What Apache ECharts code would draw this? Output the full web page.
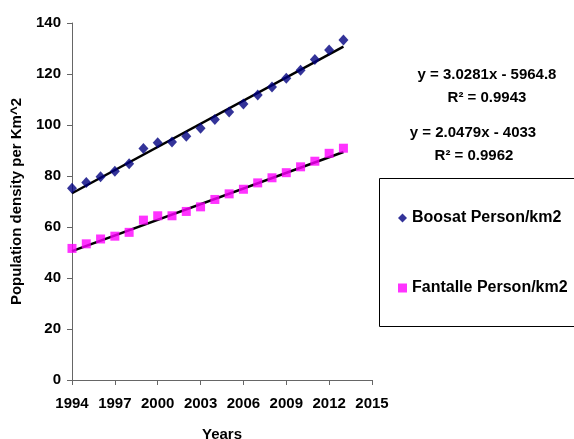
<!DOCTYPE html>
<html lang="en">
<head>
    <meta charset="UTF-8">
    <title>Population density</title>
    <script src="https://cdn.jsdelivr.net/npm/echarts@6/dist/echarts.min.js"></script>
    <style>
        html, body { margin: 0; padding: 0; background: #ffffff; }
        #main { width: 574px; height: 439px; }
    </style>
</head>
<body>
<div id="main"></div>
<script type="text/javascript">
    // 横轴年份（类目）
    var years = ['1994','1995','1996','1997','1998','1999','2000','2001','2002','2003','2004',
                 '2005','2006','2007','2008','2009','2010','2011','2012','2013','2014','2015'];
    // 观测年份
    var obsYears = ['1994','1995','1996','1997','1998','1999','2000','2001','2002','2003',
                    '2004','2005','2006','2007','2008','2009','2010','2011','2012','2013'];
    var boosat = [75.2, 77.5, 79.7, 81.9, 84.8, 90.8, 93.0, 93.3, 95.6, 98.7,
                  102.2, 105.1, 108.2, 111.8, 114.9, 118.3, 121.5, 125.7, 129.4, 133.3];
    var fantalle = [51.6, 53.4, 55.3, 56.4, 57.9, 62.7, 64.4, 64.4, 66.1, 67.9,
                    70.8, 73.0, 74.8, 77.3, 79.3, 81.3, 83.6, 85.8, 88.9, 90.9];
    // 趋势线系数 y = a*x + b
    var boosatFit = [3.0281, -5964.8];
    var fantalleFit = [2.0479, -4033];
    var boosatR2 = '0.9943';
    var fantalleR2 = '0.9962';

    var font = 'Arial, "Liberation Sans", sans-serif';

    function pairs(vals) {
        return obsYears.map(function (y, i) { return [y, vals[i]]; });
    }
    function trend(fit) {
        var a = obsYears[0], b = obsYears[obsYears.length - 1];
        return [[a, fit[0] * Number(a) + fit[1]], [b, fit[0] * Number(b) + fit[1]]];
    }
    function eqText(fit) {
        return 'y = ' + fit[0] + 'x - ' + Math.abs(fit[1]);
    }

    var chart = echarts.init(document.getElementById('main'));
    var option = {
        backgroundColor: '#ffffff',
        animation: false,
        grid: { left: 72, right: 202, top: 23, bottom: 59, containLabel: false, outerBoundsMode: 'none' },
        xAxis: {
            type: 'category',
            data: years,
            boundaryGap: false,
            name: 'Years',
            nameLocation: 'middle',
            nameGap: 47,
            nameTextStyle: { fontFamily: font, fontWeight: 'bold', fontSize: 15, color: '#000' },
            axisLine: { lineStyle: { color: '#666', width: 1 } },
            axisTick: { interval: 2, length: 5, lineStyle: { color: '#666' } },
            axisLabel: { interval: 2, margin: 16, fontFamily: font, fontWeight: 'bold', fontSize: 15, color: '#000' },
            splitLine: { show: false }
        },
        yAxis: {
            type: 'value',
            min: 0,
            max: 140,
            interval: 20,
            name: 'Population density per Km^2',
            nameLocation: 'middle',
            nameGap: 48,
            nameTextStyle: { fontFamily: font, fontWeight: 'bold', fontSize: 15, color: '#000' },
            axisLine: { show: true, lineStyle: { color: '#666', width: 1 } },
            axisTick: { show: true, length: 5, lineStyle: { color: '#666' } },
            axisLabel: { margin: 11, fontFamily: font, fontWeight: 'bold', fontSize: 15, color: '#000' },
            splitLine: { show: false }
        },
        legend: {
            data: ['Boosat Person/km2', 'Fantalle Person/km2'],
            orient: 'vertical',
            left: 393,
            top: 205,
            itemGap: 54,
            itemWidth: 9,
            itemHeight: 9,
            textStyle: { fontFamily: font, fontWeight: 'bold', fontSize: 16, color: '#000' }
        },
        graphic: [
            { type: 'rect', shape: { x: 379.5, y: 178.5, width: 220, height: 148 },
              style: { fill: 'none', stroke: '#000', lineWidth: 1 }, z: -1 },
            { type: 'text', x: 487, y: 75, style: { text: eqText(boosatFit), fontFamily: font, fontWeight: 'bold', fontSize: 15, fill: '#000', textAlign: 'center', textVerticalAlign: 'middle' } },
            { type: 'text', x: 487, y: 98, style: { text: 'R² = ' + boosatR2, fontFamily: font, fontWeight: 'bold', fontSize: 15, fill: '#000', textAlign: 'center', textVerticalAlign: 'middle' } },
            { type: 'text', x: 473, y: 133, style: { text: eqText(fantalleFit), fontFamily: font, fontWeight: 'bold', fontSize: 15, fill: '#000', textAlign: 'center', textVerticalAlign: 'middle' } },
            { type: 'text', x: 474, y: 156, style: { text: 'R² = ' + fantalleR2, fontFamily: font, fontWeight: 'bold', fontSize: 15, fill: '#000', textAlign: 'center', textVerticalAlign: 'middle' } }
        ],
        series: [
            {
                name: 'Boosat trend', type: 'line', data: trend(boosatFit),
                symbol: 'none', lineStyle: { color: '#000', width: 2.5 }, z: 1
            },
            {
                name: 'Fantalle trend', type: 'line', data: trend(fantalleFit),
                symbol: 'none', lineStyle: { color: '#000', width: 2.5 }, z: 1
            },
            {
                name: 'Boosat Person/km2', type: 'scatter', data: pairs(boosat),
                symbol: 'diamond', symbolSize: [10, 11],
                itemStyle: { color: '#000080' }, z: 3
            },
            {
                name: 'Fantalle Person/km2', type: 'scatter', data: pairs(fantalle),
                symbol: 'rect', symbolSize: 9,
                itemStyle: { color: '#ff00ff' }, z: 3
            }
        ]
    };
    chart.setOption(option);
</script>
</body>
</html>
